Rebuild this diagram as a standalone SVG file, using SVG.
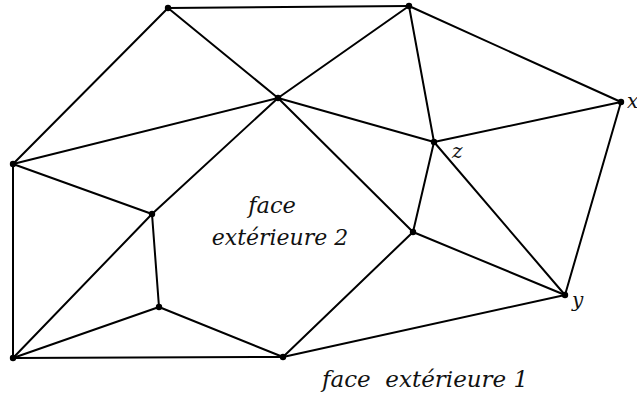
<svg xmlns="http://www.w3.org/2000/svg" width="637" height="396" viewBox="0 0 637 396">
<style>
.e{stroke:#000;stroke-width:2;fill:none;stroke-linecap:round}
.n{fill:#000}
.t{font-family:'DejaVu Serif',serif;font-style:italic;fill:#111}
</style>
<rect width="637" height="396" fill="#fff"/>
<g id="connectors" class="e">
<line x1="168" y1="8" x2="409" y2="6"/>
<line x1="168" y1="8" x2="13" y2="164"/>
<line x1="168" y1="8" x2="278" y2="98"/>
<line x1="409" y1="6" x2="278" y2="98"/>
<line x1="409" y1="6" x2="434" y2="142"/>
<line x1="409" y1="6" x2="621" y2="102"/>
<line x1="278" y1="98" x2="13" y2="164"/>
<line x1="278" y1="98" x2="434" y2="142"/>
<line x1="278" y1="98" x2="152" y2="214"/>
<line x1="152" y1="214" x2="13" y2="358"/>
<line x1="278" y1="98" x2="413" y2="232"/>
<line x1="434" y1="142" x2="621" y2="102"/>
<line x1="434" y1="142" x2="413" y2="232"/>
<line x1="434" y1="142" x2="565" y2="295"/>
<line x1="621" y1="102" x2="565" y2="295"/>
<line x1="413" y1="232" x2="565" y2="295"/>
<line x1="413" y1="232" x2="283" y2="357"/>
<line x1="283" y1="357" x2="565" y2="295"/>
<line x1="13" y1="164" x2="152" y2="214"/>
<line x1="13" y1="164" x2="13" y2="358"/>
<line x1="152" y1="214" x2="159" y2="307"/>
<line x1="159" y1="307" x2="13" y2="358"/>
<line x1="159" y1="307" x2="283" y2="357"/>
<line x1="13" y1="358" x2="283" y2="357"/>
</g>
<g id="nA"><circle class="n" cx="168" cy="8" r="3.2"/></g>
<g id="nB"><circle class="n" cx="409" cy="6" r="3.2"/></g>
<g id="nC"><circle class="n" cx="278" cy="98" r="3.2"/></g>
<g id="nX"><circle class="n" cx="621" cy="102" r="3.2"/><text class="t" x="627" y="108" font-size="20">x</text></g>
<g id="nZ"><circle class="n" cx="434" cy="142" r="3.2"/><text class="t" x="452" y="158" font-size="20">z</text></g>
<g id="nF"><circle class="n" cx="13" cy="164" r="3.2"/></g>
<g id="nG"><circle class="n" cx="152" cy="214" r="3.2"/></g>
<g id="nH"><circle class="n" cx="413" cy="232" r="3.2"/></g>
<g id="nY"><circle class="n" cx="565" cy="295" r="3.2"/><text class="t" x="572" y="307" font-size="20">y</text></g>
<g id="nJ"><circle class="n" cx="159" cy="307" r="3.2"/></g>
<g id="nK"><circle class="n" cx="13" cy="358" r="3.2"/></g>
<g id="nL"><circle class="n" cx="283" cy="357" r="3.2"/></g>
<g id="labels">
<text class="t" x="272" y="213" font-size="22.5" text-anchor="middle">face</text>
<text class="t" x="280" y="245" font-size="22" text-anchor="middle">extérieure 2</text>
<text class="t" x="322" y="387" font-size="23" xml:space="preserve">face  extérieure 1</text>
</g>
</svg>
